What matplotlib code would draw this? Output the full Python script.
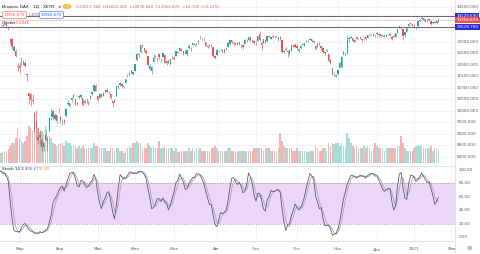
import numpy as np
import pandas as pd
import matplotlib
matplotlib.use("Agg")
import matplotlib.pyplot as plt

plt.rcParams['font.family'] = ['DejaVu Sans']

# ---------------- data (DAX daily, XETR) ----------------
holidays = ['2020-04-10', '2020-04-13', '2020-05-01', '2020-06-01',
            '2020-12-24', '2020-12-25', '2020-12-31', '2021-01-01']
dates = [d for d in pd.bdate_range('2020-01-20', '2021-01-21')
         if d.strftime('%Y-%m-%d') not in holidays]
future_dates = [d for d in pd.bdate_range('2021-01-22', '2021-02-05')]

open_ = [
    # Jan 20-31
    13530, 13540, 13570, 13490, 13420, 13370, 13250, 13360, 13250, 13230,
    # Feb
    13000, 13150, 13350, 13500, 13540, 13460, 13560, 13670, 13700, 13740,
    13760, 13750, 13740, 13800, 13600, 13100, 13100, 12620, 12590, 11960,
    # Mar
    11960, 12100, 12050, 12080, 11590, 10780, 10740, 10450, 9910, 9500,
    8870, 8840, 8710, 8430, 8750, 8760, 9100, 9780, 9750, 9800, 9550, 9940,
    # Apr
    9730, 9560, 9600, 9760, 10280, 10200, 10460, 10590, 10500, 10320,
    10600, 10610, 10540, 10320, 10530, 10380, 10560, 10710, 10870, 11090,
    # May
    10640, 10560, 10750, 10660, 10810, 10910, 10820, 10720, 10430, 10390,
    10640, 11050, 11120, 11180, 11030, 11210, 11520, 11550, 11650, 11700,
    # Jun
    11750, 12190, 12470, 12550, 12860, 12730, 12600, 12380, 11830, 11710,
    12120, 12370, 12300, 12450, 12250, 12350, 12440, 12070, 12160, 12020, 12300,
    # Jul
    12300, 12380, 12560, 12620, 12700, 12580, 12570, 12460, 12720, 12700,
    12880, 12900, 12870, 12970, 13150, 13110, 13120, 13000, 12760, 12850,
    12840, 12760, 12400,
    # Aug
    12420, 12620, 12640, 12660, 12540, 12720, 12770, 12900, 13060, 12950,
    12950, 12960, 12910, 12830, 12860, 12920, 13090, 13070, 13200, 13090, 13030,
    # Sep
    12980, 13020, 13330, 12940, 12960, 13090, 13020, 13240, 13120, 13270,
    13230, 13230, 13110, 13220, 13080, 12570, 12700, 12540, 12640, 12610,
    12850, 12850,
    # Oct
    12820, 12610, 12710, 12880, 12830, 12990, 13040, 13090, 13110, 13000,
    12830, 12780, 12900, 12800, 12720, 12520, 12600, 12480, 12190, 11880,
    11590, 11510,
    # Nov
    11600, 11860, 11900, 12450, 12480, 12530, 13120, 13180, 13150, 13000,
    13200, 13110, 13150, 13100, 13120, 13200, 13180, 13330, 13280, 13290, 13300,
    # Dec
    13330, 13340, 13320, 13260, 13270, 13260, 13330, 13320, 13230, 13260,
    13230, 13400, 13600, 13640, 13560, 13290, 13440, 13680, 13800, 13770,
    # Jan 2021
    13750, 13650, 13670, 13900, 14000, 14020, 13960, 13940, 13950, 13900,
    13810, 13880, 13820, 13918,
]

high = [
    13570, 13580, 13600, 13500, 13600, 13380, 13340, 13390, 13270, 13260,
    13100, 13300, 13490, 13580, 13560, 13510, 13640, 13760, 13760, 13760,
    13790, 13770, 13795, 13800, 13680, 13180, 13170, 12880, 12670, 12090,
    12130, 12320, 12200, 12180, 11600, 10830, 10780, 10720, 9950, 10050,
    9300, 9160, 8800, 8650, 9230, 8900, 9750, 10100, 10030, 9920, 9830, 10140,
    9780, 9650, 9630, 10100, 10470, 10360, 10600, 10740, 10510, 10390,
    10700, 10730, 10570, 10470, 10560, 10420, 10670, 10870, 11110, 11150,
    10640, 10780, 10780, 10830, 10920, 10980, 10860, 10790, 10440, 10510,
    11060, 11100, 11270, 11200, 11080, 11400, 11600, 11700, 11790, 11740,
    12030, 12510, 12530, 12850, 12910, 12740, 12690, 12390, 12090, 11930,
    12450, 12420, 12350, 12460, 12300, 12540, 12450, 12200, 12240, 12260, 12400,
    12400, 12620, 12620, 12760, 12720, 12600, 12650, 12650, 12890, 12760,
    12960, 12920, 12950, 13070, 13310, 13170, 13180, 13010, 12870, 12910,
    12870, 12780, 12440,
    12690, 12660, 12700, 12700, 12680, 12760, 13000, 13070, 13080, 12970,
    12980, 12990, 13000, 12890, 12920, 13100, 13100, 13200, 13230, 13120, 13060,
    13040, 13260, 13460, 13030, 13110, 13110, 13260, 13300, 13230, 13310,
    13260, 13270, 13220, 13250, 13090, 12640, 12780, 12640, 12690, 12880,
    12900, 12940,
    12900, 12730, 12840, 12930, 12940, 13060, 13090, 13170, 13140, 13060,
    12850, 12930, 12990, 12820, 12770, 12570, 12700, 12490, 12260, 11880,
    11700, 11610,
    11820, 12120, 12400, 12580, 12540, 13300, 13200, 13260, 13180, 13100,
    13260, 13170, 13230, 13120, 13170, 13240, 13300, 13350, 13310, 13340, 13330,
    13410, 13350, 13340, 13310, 13310, 13290, 13360, 13370, 13240, 13320,
    13380, 13570, 13680, 13660, 13570, 13420, 13600, 13800, 13820, 13790,
    13830, 13690, 13920, 13990, 14130, 14040, 14000, 13980, 14030, 13920,
    13870, 13920, 13940, 14025,
]

low = [
    13500, 13460, 13490, 13310, 13400, 13180, 13210, 13300, 13110, 12960,
    12950, 13140, 13340, 13460, 13490, 13420, 13540, 13660, 13670, 13700,
    13740, 13650, 13720, 13610, 13530, 12960, 12700, 12620, 12330, 11720,
    11630, 11950, 12000, 11900, 11310, 10290, 10200, 10300, 9090, 8820,
    8570, 8490, 8260, 8260, 8700, 8260, 9100, 9600, 9600, 9580, 9470, 9900,
    9460, 9400, 9430, 9720, 10250, 10170, 10370, 10560, 10240, 10210,
    10530, 10570, 10200, 10310, 10360, 10250, 10520, 10700, 10830, 10840,
    10440, 10540, 10580, 10640, 10790, 10770, 10740, 10520, 10160, 10320,
    10640, 10930, 11080, 10980, 10980, 11200, 11460, 11520, 11610, 11540,
    11730, 12170, 12350, 12520, 12760, 12560, 12480, 11950, 11770, 11620,
    12110, 12290, 12180, 12260, 12110, 12330, 12070, 11970, 12060, 12000, 12240,
    12210, 12370, 12510, 12610, 12580, 12410, 12460, 12390, 12700, 12600,
    12850, 12800, 12860, 12920, 13130, 13060, 13040, 12830, 12730, 12780,
    12770, 12350, 12250,
    12380, 12550, 12590, 12520, 12500, 12640, 12760, 12870, 12960, 12850,
    12880, 12840, 12880, 12750, 12700, 12910, 12980, 13050, 13040, 12980, 12920,
    12860, 13020, 13050, 12660, 12940, 12940, 13010, 13190, 13100, 13180,
    13170, 13200, 13050, 13090, 12530, 12500, 12630, 12340, 12440, 12590,
    12780, 12740,
    12700, 12570, 12700, 12840, 12800, 12970, 12990, 13070, 12990, 12960,
    12650, 12770, 12840, 12650, 12520, 12420, 12570, 12120, 12040, 11540,
    11450, 11450,
    11560, 11850, 11860, 12420, 12400, 12490, 12990, 13150, 12990, 12990,
    13110, 13060, 13130, 12980, 13070, 13060, 13170, 13260, 13240, 13270, 13220,
    13300, 13230, 13220, 13200, 13220, 13190, 13280, 13250, 13080, 13200,
    13190, 13380, 13580, 13540, 13080, 13230, 13430, 13670, 13720, 13690,
    13600, 13560, 13600, 13880, 13980, 13900, 13880, 13880, 13930, 13720,
    13770, 13800, 13780, 13877,
]

close = [
    13549, 13556, 13515, 13389, 13577, 13205, 13324, 13345, 13158, 12982,
    13046, 13282, 13479, 13575, 13514, 13494, 13627, 13750, 13745, 13744,
    13783, 13681, 13789, 13665, 13579, 13035, 12790, 12775, 12367, 11891,
    11857, 12129, 12127, 11944, 11542, 10625, 10475, 10439, 9161, 9232,
    8742, 8939, 8442, 8610, 8929, 8742, 9701, 9874, 10000, 9633, 9816, 9936,
    9544, 9571, 9525, 10075, 10356, 10333, 10565, 10697, 10280, 10301,
    10626, 10676, 10250, 10416, 10514, 10337, 10659, 10796, 11107, 10862,
    10467, 10730, 10606, 10759, 10904, 10825, 10820, 10542, 10337, 10465,
    11058, 11075, 11223, 11065, 11074, 11392, 11504, 11657, 11781, 11587,
    12021, 12487, 12431, 12848, 12820, 12617, 12530, 11970, 11949, 11911,
    12315, 12382, 12281, 12331, 12262, 12523, 12094, 12178, 12089, 12232, 12311,
    12260, 12608, 12528, 12734, 12616, 12495, 12489, 12633, 12800, 12697,
    12931, 12874, 12920, 13046, 13171, 13104, 13103, 12838, 12838, 12836,
    12822, 12379, 12313,
    12647, 12601, 12661, 12592, 12674, 12687, 12947, 13058, 12994, 12901,
    12920, 12881, 12977, 12830, 12765, 13067, 13062, 13190, 13096, 13033, 12945,
    12974, 13243, 13057, 12843, 13100, 12968, 13237, 13209, 13203, 13194,
    13218, 13255, 13208, 13116, 12542, 12595, 12643, 12606, 12469, 12871,
    12826, 12761,
    12730, 12689, 12828, 12906, 12928, 13042, 13051, 13139, 13019, 13028,
    12704, 12909, 12854, 12737, 12558, 12543, 12646, 12178, 12064, 11561,
    11598, 11556,
    11789, 12089, 12325, 12568, 12480, 13096, 13163, 13217, 13052, 13077,
    13139, 13133, 13202, 13087, 13137, 13127, 13292, 13290, 13286, 13336, 13291,
    13382, 13313, 13253, 13298, 13271, 13278, 13340, 13296, 13114, 13223,
    13362, 13565, 13667, 13630, 13246, 13418, 13587, 13790, 13761, 13719,
    13727, 13652, 13892, 13968, 14050, 13937, 13925, 13940, 13989, 13788,
    13848, 13815, 13922, 13957,
]

volume = [
    5, 5, 5, 6, 6, 7, 6, 6, 6, 6,
    6, 6, 6, 5, 5, 5, 5, 5, 5, 5,
    4, 4.5, 4.5, 5, 5.5, 7, 8, 8, 10, 14,
    10, 9, 8, 9, 11, 15, 14, 13, 20, 17,
    14, 12.5, 13, 12, 15, 10, 11, 10, 8, 7.5, 7, 7.5,
    8, 8, 7, 9, 8, 8, 7, 7, 7, 6,
    7, 6, 7, 6, 6, 6, 6, 6, 8, 7,
    7, 6, 6, 6, 6, 5, 5, 6, 6, 5,
    6, 6, 5, 5, 4, 5, 6, 7, 6, 8,
    8, 9, 8, 8, 6, 6, 6, 8, 7, 6,
    7, 6, 6, 9, 6, 6, 7, 6, 6, 6, 6,
    5, 6, 4.5, 5, 5, 5, 5, 5, 6, 5,
    6, 5, 6, 5, 6, 5, 5, 5, 5, 5,
    6, 6, 7,
    6, 5, 5, 5, 5, 5, 6, 6, 5, 5,
    5, 4.5, 5, 5, 5, 5, 5, 5, 5, 5, 6,
    6, 6, 6, 6, 5, 6, 6, 6, 5, 5,
    5, 5, 6, 12, 9, 7, 6, 6, 6, 6,
    5, 5,
    6, 5, 5, 5, 5, 5, 4.5, 5, 5, 5,
    7, 6, 5, 5, 6, 6, 5, 8, 7, 8,
    7.5, 8,
    8, 7, 8, 7, 6, 12, 10, 8, 7, 6,
    7, 6, 6, 6, 7, 6, 7, 6, 5, 6, 8,
    7, 6, 6, 6, 5, 6, 6, 6, 6, 6,
    6, 7, 7, 11, 8, 6, 5, 5, 5, 5,
    6, 7, 7, 7, 7, 6, 6, 6, 6, 7,
    5, 6, 6, 5.284,
]

price_ticks = [14500, 13000, 12500, 12000, 11500, 11000, 10500, 10000,
               9500, 9000, 8500, 8000]
stoch_ticks = [100, 80, 60, 40, 20, 0]
hline_hi = 14129.690
hline_lo = 13628.780
last_price = 13956.670
stoch_k_txt = '55.67'
stoch_d_txt = '51.85'
month_names = {1: 'Янв', 2: 'Фев', 3: 'Мар', 4: 'Апр', 5: 'Май', 6: 'Июн',
               7: 'Июл', 8: 'Авг', 9: 'Сен', 10: 'Окт', 11: 'Ноя', 12: 'Дек'}

# ---------------- derived ----------------
o = np.array(open_, float); h = np.array(high, float)
l = np.array(low, float); c = np.array(close, float)
v = np.array(volume, float)
n = len(c)
idx = np.arange(n)
hh = pd.Series(h).rolling(14).max()
ll = pd.Series(l).rolling(14).min()
raw = 100 * (pd.Series(c) - ll) / (hh - ll)
k = raw.rolling(3).mean()
d = k.rolling(3).mean()

all_dates = dates + future_dates
first_idx = {}
for i, dt in enumerate(all_dates):
    key = (dt.year, dt.month)
    if key not in first_idx:
        first_idx[key] = i

# ---------------- figure ----------------
W, H = 480, 254
fig = plt.figure(figsize=(W / 100, H / 100), dpi=100)
fig.patch.set_facecolor('white')

def rect(x0, y0, x1, y1):
    return [x0 / W, 1 - y1 / H, (x1 - x0) / W, (y1 - y0) / H]

UP = '#26a69a'; DN = '#ef5350'
PANE_R = 455
MAIN_B = 166
STO_B = 241

i_mar2 = first_idx[(2020, 3)]
ppd = 1.862
xl = (i_mar2 - 19.5 / ppd, i_mar2 + (PANE_R - 19.5) / ppd)

VTOP = 65.2
axv = fig.add_axes(rect(0, 0, PANE_R, MAIN_B))
ax = fig.add_axes(rect(0, 0, PANE_R, MAIN_B))
axs = fig.add_axes(rect(0, MAIN_B, PANE_R, STO_B))
for a in (axv, ax, axs):
    a.set_xlim(*xl)
    a.set_xticks([]); a.set_yticks([])
    for s in a.spines.values():
        s.set_visible(False)
ax.set_facecolor('none')
ax.set_ylim(7600, 14817)
axv.set_ylim(-1.2, VTOP)
axs.set_ylim(-6, 106)

# grid
gcol = '#f0f2f6'
for (yy, mm), i in first_idx.items():
    if (yy, mm) >= (2020, 3):
        axv.axvline(i, color=gcol, lw=0.6, zorder=0)
        axs.axvline(i, color=gcol, lw=0.6, zorder=0)
for p in price_ticks + [14000, 13500]:
    axv.axhline((p - 7600) / (14817 - 7600) * (VTOP + 1.2) - 1.2,
                color=gcol, lw=0.6, zorder=0)

# volume
up = c >= o
vcol = np.where(up, '#a8dcd6', '#f6b3b1')
axv.bar(idx, v, width=0.8, color=vcol, linewidth=0, zorder=2)

# candles
col = np.where(up, UP, DN)
ax.vlines(idx, l, h, colors=col, lw=0.45, zorder=3)
body_lo = np.minimum(o, c); body_h = np.maximum(np.abs(c - o), 8)
ax.bar(idx, body_h, bottom=body_lo, width=0.7, color=col, linewidth=0, zorder=4)

# horizontal lines
ax.axhline(hline_hi, color='#6b6e78', lw=0.8, zorder=5)
ax.axhline(hline_lo, color='#6b6e78', lw=0.8, zorder=5)
ax.axhline(last_price, color=DN, lw=0.5, ls=(0, (1, 1.5)), zorder=5)

# stochastic
axs.axhspan(20, 80, color='#ead7f7', zorder=1, lw=0)
axs.axhline(80, color='#a58bb8', lw=0.5, ls=(0, (2, 2)), zorder=2)
axs.axhline(20, color='#a58bb8', lw=0.5, ls=(0, (2, 2)), zorder=2)
axs.plot(idx, d, color='#b5a5a5', lw=0.6, zorder=3)
axs.plot(idx, k, color='#5b5b7a', lw=0.6, zorder=4)

# separators
fig.add_artist(plt.Line2D([0, PANE_R / W], [1 - MAIN_B / H] * 2, color='#dfe2ea', lw=0.8))
fig.add_artist(plt.Line2D([0, PANE_R / W], [1 - STO_B / H] * 2, color='#dfe2ea', lw=0.8))
fig.add_artist(plt.Line2D([PANE_R / W] * 2, [0, 1], color='#dfe2ea', lw=0.8))

# right scales
fs = 3.0
def py(p):
    return 7.3 + (14500 - p) * 0.023
for p in price_ticks:
    fig.text(457 / W, 1 - py(p) / H, f'{p:.3f}', fontsize=fs, color='#555a66',
             va='center', ha='left')
def box(p, fc):
    fig.text(456.5 / W, 1 - py(p) / H, f'{p:.3f}', fontsize=fs, color='white',
             va='center', ha='left',
             bbox=dict(boxstyle='square,pad=0.25', fc=fc, ec='none'))
box(hline_hi, '#2a2ad6')
box(last_price, DN)
box(hline_lo, '#2a2ad6')

for sv in stoch_ticks:
    yy = 170 + (100 - sv) * 0.67
    fig.text(459 / W, 1 - yy / H, f'{sv:.2f}', fontsize=fs, color='#555a66',
             va='center', ha='left')

# bottom labels
for (yy, mm), i in first_idx.items():
    if (yy, mm) < (2020, 3):
        continue
    lab = '2021' if (yy, mm) == (2021, 1) else month_names[mm]
    xpx = 19.5 + (i - i_mar2) * ppd
    if xpx > 460:
        continue
    fig.text(xpx / W, 1 - 249 / H, lab, fontsize=fs, color='#555a66',
             ha='center', va='center')
fig.text(469 / W, 1 - 249 / H, '⚙', fontsize=4.5, color='#555a66',
         ha='center', va='center')

# header texts
hf = 3.1
fig.text(2 / W, 1 - 6.5 / H, 'Индекс DAX · 1Д · XETR', fontsize=hf,
         color='#131722', va='center')
fig.text(58 / W, 1 - 6.5 / H, '≡', fontsize=hf, color='#787b86', va='center')
fig.add_artist(plt.Circle((67 / W, 1 - 6.5 / H), 0.008, transform=fig.transFigure,
                          color='#f7a600', alpha=0.6))
fig.text(76 / W, 1 - 6.5 / H,
         'O13917.780  H14025.260  L13876.840  C13956.670  +16.730 (+0.12%)',
         fontsize=2.9, color='#e0605c', va='center')
fig.text(4 / W, 1 - 15 / H, '13956.670', fontsize=2.9, color=DN, va='center',
         bbox=dict(boxstyle='round,pad=0.35', fc='white', ec=DN, lw=0.4))
fig.text(29 / W, 1 - 15 / H, '5.890', fontsize=2.9, color='#787b86', va='center')
fig.text(41 / W, 1 - 15 / H, '13966.670', fontsize=2.9, color='#2962ff', va='center',
         bbox=dict(boxstyle='round,pad=0.35', fc='white', ec='#2962ff', lw=0.4))
fig.text(2 / W, 1 - 22.5 / H, 'Объём', fontsize=3.0, color='#131722', va='center')
fig.text(16 / W, 1 - 22.5 / H, '5.284K', fontsize=3.0, color='#e0605c', va='center')

fig.text(2 / W, 1 - 169.5 / H, 'Stoch 14 3 3', fontsize=3.0, color='#131722', va='center')
fig.text(28 / W, 1 - 169.5 / H, stoch_k_txt, fontsize=3.0, color='#5b6ea8', va='center')
fig.text(39 / W, 1 - 169.5 / H, stoch_d_txt, fontsize=3.0, color='#e0a020', va='center')

fig.savefig('out.png', dpi=100, facecolor='white')
